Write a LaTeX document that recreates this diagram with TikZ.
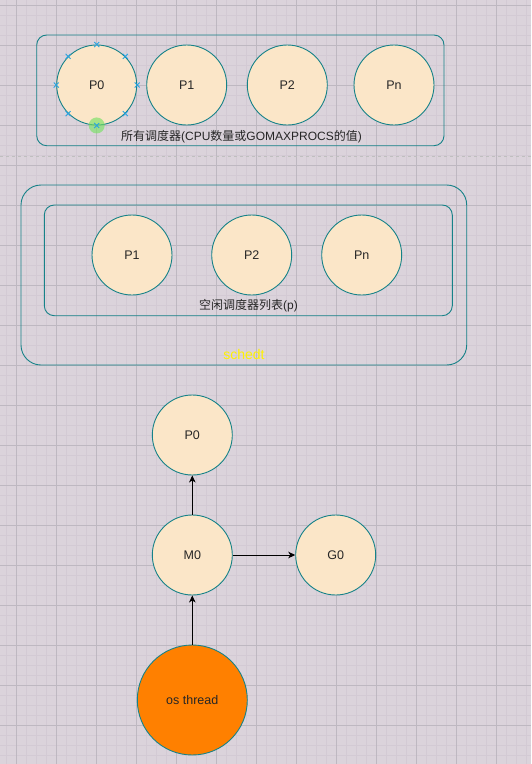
\documentclass[tikz,border=0pt]{standalone}
\usepackage{fontspec}
\setmainfont{Liberation Sans}
\newfontfamily\cjk{Noto Sans CJK SC}
\usepackage{xcolor}
\usepackage{tikz}
\usetikzlibrary{arrows.meta,positioning}
\definecolor{gBack}{RGB}{219,211,219}
\definecolor{gMinor}{RGB}{211,202,212}
\definecolor{gMajor}{RGB}{190,184,193}
\definecolor{tealLine}{RGB}{22,130,136}
\definecolor{pFill}{RGB}{251,230,200}
\definecolor{threadFill}{RGB}{255,128,0}
\definecolor{markBlue}{RGB}{41,163,224}
\definecolor{markGreen}{RGB}{120,225,100}
\tikzset{
  proc/.style={circle, draw=tealLine, fill=pFill, line width=0.9pt, minimum size=80pt, inner sep=0pt, font=\fontsize{12.5}{14}\selectfont, text=black!85},
  group/.style={rectangle, rounded corners=10pt, draw=tealLine, line width=0.9pt, inner sep=0pt},
  caption/.style={inner sep=0pt, font=\fontsize{12}{14}\selectfont, text=black!85},
  arrow/.style={-{Stealth[length=7pt, width=6.5pt, inset=2pt]}, line width=0.9pt, draw=black}
}

\begin{document}
\begin{tikzpicture}[x=1pt, y=-1pt]
  \useasboundingbox (0,0) rectangle (531,764);
  \fill[gBack] (0,0) rectangle (531,764);
  \foreach \k in {0,...,52} \draw[gMinor, line width=0.8pt] ({6.3+10*\k},0) -- ({6.3+10*\k},764);
  \foreach \k in {0,...,75} \draw[gMinor, line width=0.8pt] (0,{5.3+10*\k}) -- (531,{5.3+10*\k});
  \foreach \k in {0,...,12} \draw[gMajor, line width=1pt] ({16.3+40*\k},0) -- ({16.3+40*\k},764);
  \foreach \k in {0,...,18} \draw[gMajor, line width=1pt] (0,{5.3+40*\k}) -- (531,{5.3+40*\k});
  \draw[black!25, line width=0.8pt, dash pattern=on 3pt off 3pt] (0,156) -- (531,156);

  \node[group, minimum width=407.3pt, minimum height=110.7pt] (all) at (240.35,90.35) {};
  \node[proc] (p0) at (96.7,85) {P0};
  \node[proc] (p1) at (186.7,85) {P1};
  \node[proc] (p2) at (287.3,85) {P2};
  \node[proc] (pn) at (394,85) {Pn};
  \node[caption] (allcap) at (241.5,136.7) {{\cjk 所有调度器}(CPU{\cjk 数量或}GOMAXPROCS{\cjk 的值})};
  \fill[markGreen, opacity=0.65] (p0.270) circle (8);
  \foreach \a in {0,45,...,315}
    \draw[markBlue, line width=0.9pt] ([shift={(-2.5,-2.5)}]p0.\a) -- ([shift={(2.5,2.5)}]p0.\a)
      ([shift={(-2.5,2.5)}]p0.\a) -- ([shift={(2.5,-2.5)}]p0.\a);

  \node[group, rounded corners=20pt, minimum width=445.7pt, minimum height=180pt] (schedt) at (243.85,275) {};
  \node[group, minimum width=408pt, minimum height=110.7pt] (idle) at (248.3,260.35) {};
  \node[proc] (q1) at (132,255) {P1};
  \node[proc] (q2) at (251.7,255) {P2};
  \node[proc] (qn) at (361.7,255) {Pn};
  \node[caption] (idlecap) at (248.5,306) {{\cjk 空闲调度器列表}(p)};
  \node[caption, text=yellow, font=\fontsize{14}{16}\selectfont] (schedtcap) at (244,354) {schedt};

  \node[proc, fill=threadFill, minimum size=110pt] (os) at (192.3,700) {os thread};
  \node[proc] (m0) at (192.3,555) {M0};
  \node[proc] (top) at (192.3,435) {P0};
  \node[proc] (g0) at (335.7,555) {G0};
  \draw[arrow] (os) -- (m0);
  \draw[arrow] (m0) -- (top);
  \draw[arrow] (m0) -- (g0);
\end{tikzpicture}
\end{document}
